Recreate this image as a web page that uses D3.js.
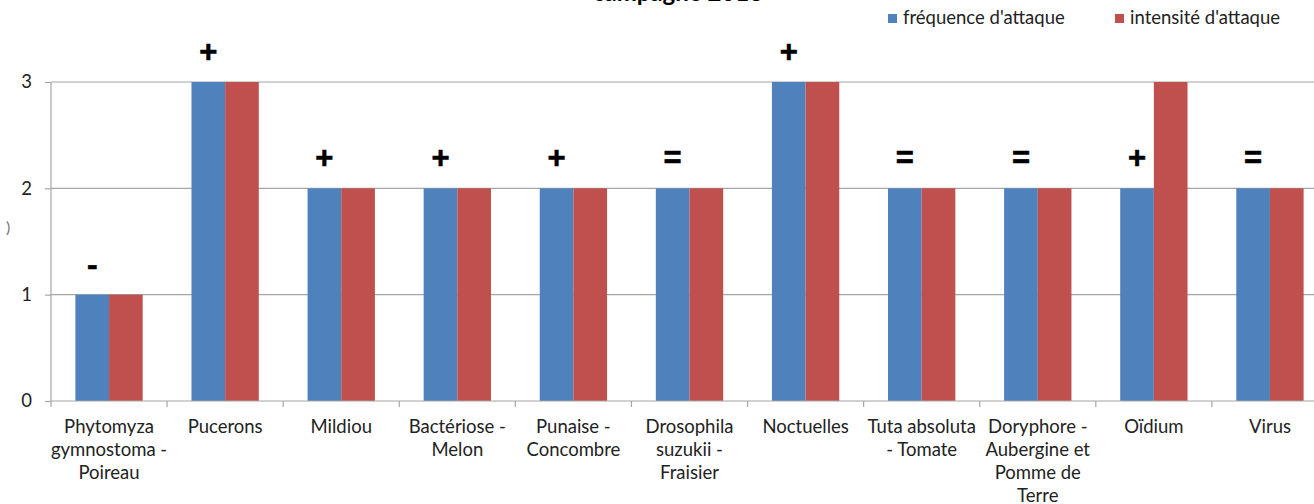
<!DOCTYPE html>
<html>
<head>
<meta charset="utf-8">
<script src="https://cdn.jsdelivr.net/npm/d3@7"></script>
<style>
  html, body { margin: 0; padding: 0; background: #fff; }
  svg { display: block; font-family: Lato, "Open Sans", sans-serif; }
</style>
</head>
<body>
<svg id="chart" width="1314" height="504"></svg>
<script>
// Pest categories (label lines as shown under the axis)
const categories = [
  ["Phytomyza", "gymnostoma -", "Poireau"],
  ["Pucerons"],
  ["Mildiou"],
  ["Bactériose -", "Melon"],
  ["Punaise -", "Concombre"],
  ["Drosophila", "suzukii -", "Fraisier"],
  ["Noctuelles"],
  ["Tuta absoluta", "- Tomate"],
  ["Doryphore -", "Aubergine et", "Pomme de", "Terre"],
  ["Oïdium"],
  ["Virus"]
];
const frequence = [1, 3, 2, 2, 2, 2, 3, 2, 2, 2, 2];
const intensite = [1, 3, 2, 2, 2, 2, 3, 2, 2, 3, 2];
// Trend compared with the previous campaign
const tendance = ["-", "+", "+", "+", "+", "=", "+", "=", "=", "+", "="];
const seriesNames = ["fréquence d'attaque", "intensité d'attaque"];
const yTicks = [0, 1, 2, 3];
const titleText = "campagne 2013";

const colors = ["#4F81BD", "#C0504D"];
const svg = d3.select("#chart");

const keys = categories.map((c, i) => i);
const x = d3.scaleBand().domain(keys).range([51, 1328]).paddingInner(0.42).paddingOuter(0.21);
const xs = d3.scaleBand().domain([0, 1]).range([0, x.bandwidth()]);
const y = d3.scaleLinear().domain([0, 3]).range([401, 82]);

// Title (top line of the chart area)
svg.append("text")
  .attr("x", 678).attr("y", 1)
  .attr("text-anchor", "middle")
  .attr("font-size", 24).attr("font-weight", "bold").attr("fill", "#000")
  .text(titleText);

// Fragment of the vertical axis title at the left edge
svg.append("text")
  .attr("x", 6).attr("y", 233)
  .attr("font-size", 16).attr("fill", "#777")
  .text(")");

// Horizontal gridlines
svg.append("g").selectAll("line").data(yTicks.filter(d => d > 0)).join("line")
  .attr("x1", 51).attr("x2", 1314)
  .attr("y1", d => y(d)).attr("y2", d => y(d))
  .attr("stroke", "#a6a6a6").attr("stroke-width", 1.2);

// Bars
const groups = svg.append("g").selectAll("g").data(keys).join("g")
  .attr("transform", d => `translate(${x(d)},0)`);
groups.selectAll("rect")
  .data(i => [frequence[i], intensite[i]].map((v, s) => ({ v, s })))
  .join("rect")
  .attr("x", d => xs(d.s))
  .attr("width", xs.bandwidth())
  .attr("y", d => y(d.v))
  .attr("height", d => y(0) - y(d.v))
  .attr("fill", d => colors[d.s]);

// Trend symbols above the frequency bar
svg.append("g").selectAll("text").data(keys).join("text")
  .attr("x", i => x(i) + xs(0) + xs.bandwidth() / 2)
  .attr("y", i => y(frequence[i]) - 31)
  .attr("text-anchor", "middle")
  .attr("dominant-baseline", "central")
  .attr("font-family", "Liberation Sans, Arial, sans-serif")
  .attr("font-weight", "bold")
  .attr("font-size", i => tendance[i] === "-" ? 32 : 31)
  .attr("stroke", "#000").attr("stroke-width", 0.6)
  .attr("fill", "#000")
  .text(i => tendance[i]);

// Y axis
const yAxis = svg.append("g").attr("transform", "translate(51,0)")
  .call(d3.axisLeft(y).tickValues(yTicks).tickSize(6).tickPadding(13).tickFormat(d3.format("d")));
yAxis.select(".domain").attr("stroke", "#a6a6a6").attr("stroke-width", 1.2).attr("d", `M0,${y(3)}V${y(0)}`);
yAxis.selectAll(".tick line").attr("stroke", "#a6a6a6").attr("stroke-width", 1.2);
yAxis.selectAll(".tick text").attr("font-size", 18.5).attr("font-family", "Lato, sans-serif").attr("fill", "#222");

// X axis baseline with ticks between categories
svg.append("line").attr("x1", 51).attr("x2", 1314).attr("y1", y(0)).attr("y2", y(0))
  .attr("stroke", "#a6a6a6").attr("stroke-width", 1.2);
const step = x.step();
const boundaries = d3.range(0, categories.length + 1).map(i => x.range()[0] + i * step);
svg.append("g").selectAll("line").data(boundaries).join("line")
  .attr("x1", d => d).attr("x2", d => d)
  .attr("y1", y(0)).attr("y2", y(0) + 6)
  .attr("stroke", "#a6a6a6").attr("stroke-width", 1.2);

// Category labels
const labels = svg.append("g").selectAll("text").data(keys).join("text")
  .attr("x", i => x(i) + x.bandwidth() / 2)
  .attr("y", 433)
  .attr("text-anchor", "middle")
  .attr("font-size", 18.5).attr("fill", "#222");
labels.selectAll("tspan").data(i => categories[i]).join("tspan")
  .attr("x", function () { return d3.select(this.parentNode).attr("x"); })
  .attr("dy", (d, j) => j === 0 ? 0 : 23)
  .text(d => d);

// Legend
const legendX = [888, 1115];
const legend = svg.append("g").selectAll("g").data(seriesNames).join("g")
  .attr("transform", (d, i) => `translate(${legendX[i]},0)`);
legend.append("rect").attr("x", 0).attr("y", 14).attr("width", 9).attr("height", 9)
  .attr("fill", (d, i) => colors[i]);
legend.append("text").attr("x", 15).attr("y", 24)
  .attr("font-size", 18.5).attr("fill", "#222")
  .text(d => d);
</script>
</body>
</html>
